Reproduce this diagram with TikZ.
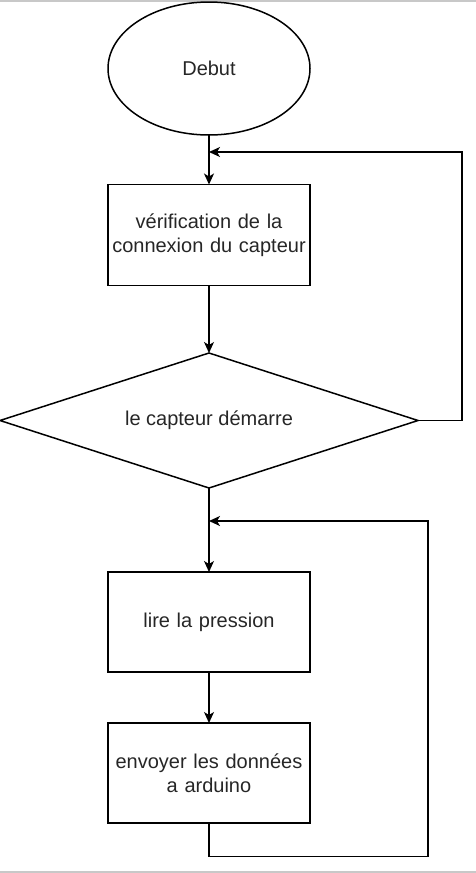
\documentclass[tikz,border=0pt]{standalone}
\usepackage{fontspec}
\setmainfont{Liberation Sans}
\usetikzlibrary{shapes.geometric,arrows.meta}
\definecolor{txtc}{HTML}{262626}
\definecolor{framec}{HTML}{C8C8C8}
\tikzset{
  base/.style={draw=black, line width=1.5pt, outer sep=0pt, inner sep=0pt,
    font=\fontsize{20}{24}\selectfont, text=txtc, align=center},
  startnode/.style={base, ellipse, minimum width=202pt, minimum height=133pt},
  procbox/.style={base, rectangle, minimum width=202pt, minimum height=101pt, text width=195pt},
  decision/.style={base, diamond, aspect=3.1, minimum width=418pt, minimum height=135pt},
  conn/.style={draw=black, line width=1.5pt, -{Stealth[length=11pt,width=10pt,inset=3pt]}},
  plainconn/.style={draw=black, line width=1.5pt}
}
\begin{document}
\begin{tikzpicture}[x=1pt,y=-1pt]
\useasboundingbox (0,0) rectangle (476,873);
\draw[framec, line width=1.5pt] (0,0.75) -- (476,0.75);
\draw[framec, line width=2pt] (0,872) -- (476,872);

\node[startnode] (start) at (209,68.5) {Debut};
\node[procbox] (verif) at (209,235) {vérification de la\\connexion du capteur};
\node[decision] (dec) at (209,420.5) {le capteur démarre};
\node[procbox, minimum height=100pt] (lire) at (209,622) {lire la pression};
\node[procbox, minimum height=100pt] (envoi) at (209,773) {envoyer les données\\a arduino};

\coordinate (j1) at (209,152);
\coordinate (j2) at (209,521);
\coordinate (r1) at (462,420.5);
\coordinate (r2) at (428,856.5);

\draw[conn] (start.south) -- (verif.north);
\draw[conn] (verif.south) -- (dec.north);
\draw[conn] (dec.south) -- (lire.north);
\draw[conn] (lire.south) -- (envoi.north);
\draw[conn] (dec.east) -- (r1) |- (j1);
\draw[conn] (envoi.south) |- (r2) |- (j2);
\end{tikzpicture}
\end{document}
